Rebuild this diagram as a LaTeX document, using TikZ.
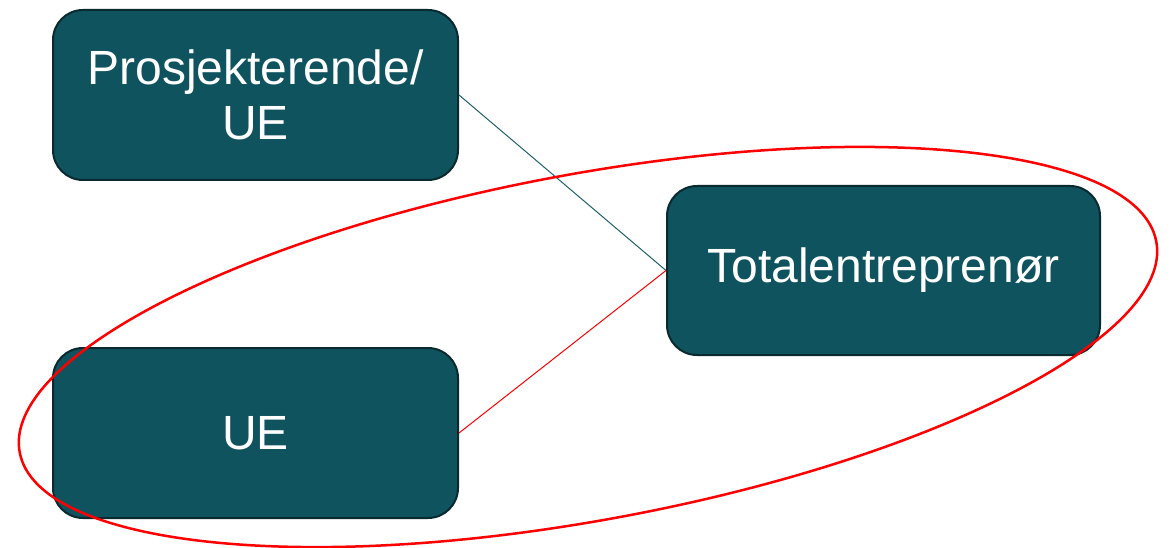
\documentclass[tikz,border=0pt]{standalone}
\usepackage{fontspec}
\setmainfont{Liberation Sans}
\definecolor{boxfill}{HTML}{0F535E}
\definecolor{boxedge}{HTML}{0A2A30}
\definecolor{tealline}{HTML}{1F5F6A}
\begin{document}
\begin{tikzpicture}[x=1pt,y=1pt,
  box/.style={draw=boxedge, line width=2pt, fill=boxfill, rounded corners=30pt,
    text=white, align=center, font=\fontsize{48}{55}\selectfont, inner sep=0pt},
  leftbox/.style={box, minimum width=405pt, minimum height=170pt},
  rightbox/.style={box, minimum width=433pt, minimum height=169pt}]
\useasboundingbox (0,0) rectangle (1175,547);
\node[leftbox] (p) at (255.5,452) {Prosjekterende/\\UE};
\node[leftbox] (u) at (255.5,114) {UE};
\node[rightbox] (t) at (883.5,276.5) {Totalentreprenør};
\draw[tealline, line width=1pt] (p.east) -- (t.west);
\draw[red, line width=2.5pt] [rotate around={10.5:(588,200)}] (588,200) ellipse [x radius=578, y radius=173];
\draw[red, line width=1pt] (u.east) -- (t.west);
\end{tikzpicture}
\end{document}
